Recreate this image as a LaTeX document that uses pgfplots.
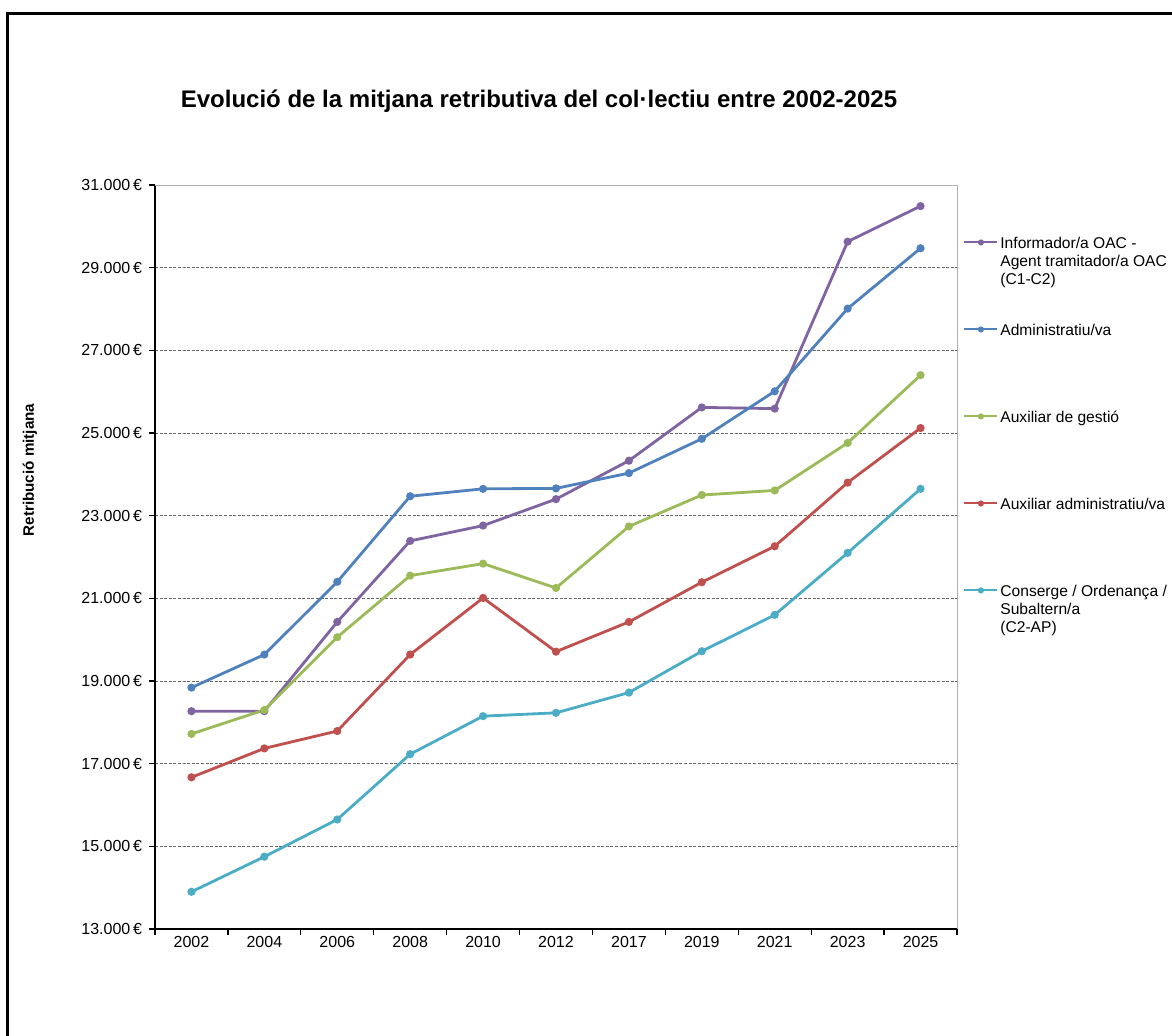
\documentclass[border=0pt]{standalone}
\usepackage{pgfplots}
\pgfplotsset{compat=1.18}
\usepackage{pgfplotstable}
\usepackage{fontspec}
\setmainfont{Liberation Sans}

\definecolor{cInf}{HTML}{8064A2}
\definecolor{cAdm}{HTML}{4F81BD}
\definecolor{cAux}{HTML}{9BBB59}
\definecolor{cAuxAdm}{HTML}{C0504D}
\definecolor{cCons}{HTML}{4BACC6}

% mitjana retributiva per col·lectiu (idx = posicio de l'any a l'eix)
\pgfplotstableread{
idx inf   adm   aux   auxadm cons
0   18270 18840 17720 16670  13900
1   18270 19640 18300 17370  14750
2   20430 21400 20060 17790  15650
3   22390 23470 21550 19640  17230
4   22760 23650 21840 21010  18150
5   23400 23660 21250 19710  18230
6   24330 24030 22740 20430  18720
7   25620 24860 23500 21390  19720
8   25590 26010 23610 22260  20600
9   29630 28010 24760 23800  22100
10  30490 29470 26400 25120  23650
}\datatable

\newcommand{\lines}[1]{\vtop{#1}}

\begin{document}
\begin{tikzpicture}
\fill[white] (0,0) rectangle (586pt,-517.5pt);
\path[use as bounding box] (0,0) rectangle (586pt,-517.5pt);
\draw[line width=1.5pt] (3.75pt,-520pt) -- (3.75pt,-6.75pt) -- (590pt,-6.75pt);

\node[font=\fontsize{12}{14}\selectfont\bfseries] at (269.5pt,-50.5pt)
  {Evolució de la mitjana retributiva del col·lectiu entre 2002-2025};

\begin{axis}[
    scale only axis,
    width=401pt, height=372pt,
    at={(77.5pt,-464.5pt)}, anchor=south west,
    xmin=-0.5, xmax=10.5,
    ymin=13000, ymax=31000,
    scaled y ticks=false,
    axis x line*=bottom, axis y line*=left,
    axis line style={black, line width=0.7pt, -},
    tick align=outside,
    major tick length=3pt,
    tick style={black, line width=0.6pt},
    xtick={-0.5,0.5,...,10.5},
    xticklabels={},
    extra x ticks={0,...,10},
    extra x tick labels={2002,2004,2006,2008,2010,2012,2017,2019,2021,2023,2025},
    extra x tick style={major tick length=0pt},
    ytick={13000,15000,...,31000},
    yticklabels={13.000\,€,15.000\,€,17.000\,€,19.000\,€,21.000\,€,23.000\,€,25.000\,€,27.000\,€,29.000\,€,31.000\,€},
    ymajorgrids,
    grid style={gray!80!black, line width=0.4pt, dash pattern=on 1.5pt off 0.8pt},
    tick label style={font=\fontsize{8}{9.6}\selectfont},
    ylabel={Retribució mitjana},
    ylabel style={at={(axis description cs:-0.156,0.617)}, anchor=center,
        font=\fontsize{7.6}{9}\selectfont\bfseries},
    every axis plot/.append style={line width=1.4pt, mark=*, mark size=1.3pt, mark options={solid}},
    legend cell align=left,
    legend style={draw=none, fill=none, at={(axis description cs:1,0.931)},
        anchor=north west, xshift=3pt, inner sep=0pt,
        row sep={43.5pt,between origins}, column sep=1pt,
        font=\fontsize{7.8}{9}\selectfont,
        nodes={inner sep=0pt}, cells={anchor=base west}},
    legend image code/.code={\draw[mark repeat=2,mark phase=2,#1,line width=1pt,mark size=1pt]
        plot coordinates {(0pt,2.8pt) (8.25pt,2.8pt) (16.5pt,2.8pt)};},
    after end axis/.code={\draw[gray!60, line width=0.5pt]
        (rel axis cs:0,1) -- (rel axis cs:1,1) -- (rel axis cs:1,0);},
]
\addplot[cInf] table[x=idx, y=inf] {\datatable};
\addlegendentry{\lines{\hbox{Informador/a OAC -}\hbox{Agent tramitador/a OAC}\hbox{(C1-C2)}}}
\addplot[cAdm] table[x=idx, y=adm] {\datatable};
\addlegendentry{Administratiu/va}
\addplot[cAux] table[x=idx, y=aux] {\datatable};
\addlegendentry{Auxiliar de gestió}
\addplot[cAuxAdm] table[x=idx, y=auxadm] {\datatable};
\addlegendentry{Auxiliar administratiu/va}
\addplot[cCons] table[x=idx, y=cons] {\datatable};
\addlegendentry{\lines{\hbox{Conserge / Ordenança /}\hbox{Subaltern/a}\hbox{(C2-AP)}}}
\end{axis}
\end{tikzpicture}
\end{document}
